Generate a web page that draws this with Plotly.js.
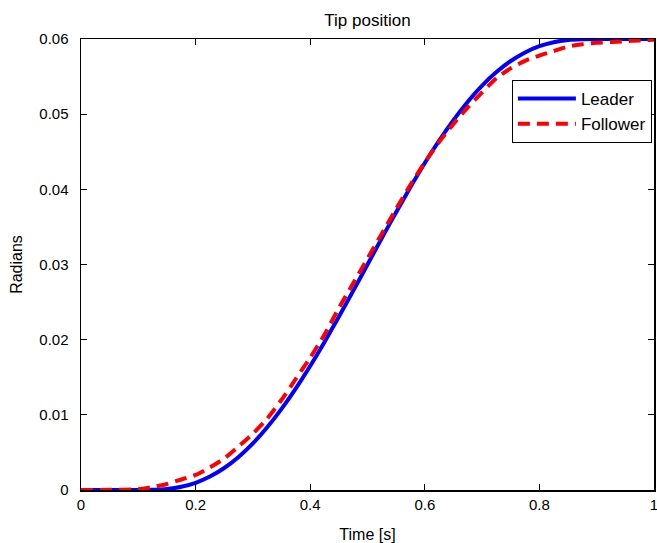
<!DOCTYPE html>
<html>
<head>
<meta charset="utf-8">
<script src="https://cdn.plot.ly/plotly-3.0.1.min.js"></script>
<style>html,body{margin:0;padding:0;background:#fff;}#chart{width:657px;height:543px;}</style>
</head>
<body>
<div id="chart"></div>
<script>
const time = [0, 0.05, 0.1, 0.125, 0.15, 0.175, 0.2, 0.225, 0.25, 0.275, 0.3, 0.325, 0.35, 0.375, 0.4, 0.425, 0.45, 0.475, 0.5, 0.525, 0.55, 0.575, 0.6, 0.625, 0.65, 0.675, 0.7, 0.725, 0.75, 0.775, 0.8, 0.825, 0.85, 0.875, 0.9, 0.925, 0.95, 0.975, 1.0];
const leader = [0, 0, 0, 0.00002, 0.00013, 0.00043, 0.00096, 0.00179, 0.00293, 0.0044, 0.0062, 0.00835, 0.0108, 0.01353, 0.0165, 0.0197, 0.02304, 0.02649, 0.03, 0.03351, 0.03696, 0.0403, 0.0435, 0.04647, 0.0492, 0.05165, 0.0538, 0.0556, 0.05707, 0.05821, 0.05904, 0.05957, 0.05987, 0.05998, 0.06, 0.06, 0.06, 0.06, 0.06];
const follower = [0, 0.00002, 0.0001, 0.0004, 0.0008, 0.0014, 0.002, 0.003, 0.0042, 0.0058, 0.0075, 0.0095, 0.012, 0.0148, 0.0176, 0.0207, 0.0242, 0.0275, 0.0308, 0.0341, 0.0374, 0.0406, 0.0436, 0.0463, 0.0487, 0.0509, 0.0529, 0.0548, 0.0561, 0.0571, 0.0578, 0.0584, 0.059, 0.0593, 0.0595, 0.0596, 0.0597, 0.0598, 0.0599];
const seriesNames = ['Leader', 'Follower'];
const xTicks = [0, 0.2, 0.4, 0.6, 0.8, 1];
const xTickText = ['0', '0.2', '0.4', '0.6', '0.8', '1'];
const yTicks = [0, 0.01, 0.02, 0.03, 0.04, 0.05, 0.06];
const yTickText = ['0', '0.01', '0.02', '0.03', '0.04', '0.05', '0.06'];

const font = 'Liberation Sans, Arial, Helvetica, sans-serif';
const traces = [
  {x: time, y: leader, name: seriesNames[0], mode: 'lines', line: {color: '#0000ff', width: 4, shape: 'spline', smoothing: 0.6}},
  {x: time, y: follower, name: seriesNames[1], mode: 'lines', line: {color: '#ff0000', width: 4, dash: '12px,7px', shape: 'spline', smoothing: 0.6}}
];
const axisCommon = {
  showline: true, linecolor: '#000', linewidth: 1.5, mirror: 'ticks',
  ticks: 'inside', ticklen: 6, tickwidth: 1, tickcolor: '#000',
  showgrid: false, zeroline: false, ticklabeloverflow: 'allow',
  tickfont: {family: font, size: 15, color: '#000'}
};
const layout = {
  width: 657, height: 543,
  margin: {l: 81, r: 3, t: 39, b: 53},
  paper_bgcolor: '#fff', plot_bgcolor: '#fff',
  title: {text: 'Tip position', font: {family: font, size: 17, color: '#000'}, x: 0.5, xref: 'paper', y: 0.963, yanchor: 'middle'},
  xaxis: Object.assign({}, axisCommon, {range: [0, 1], tickvals: xTicks, ticktext: xTickText,
    title: {text: 'Time [s]', font: {family: font, size: 16, color: '#000'}, standoff: 17}}),
  yaxis: Object.assign({}, axisCommon, {range: [0, 0.06], tickvals: yTicks, ticktext: yTickText, ticklabelstandoff: 8,
    title: {text: 'Radians', font: {family: font, size: 16, color: '#000'}, standoff: 12}}),
  legend: {x: 0.752, y: 0.909, xanchor: 'left', yanchor: 'top', bgcolor: '#fff', bordercolor: '#000', borderwidth: 1,
    font: {family: font, size: 17, color: '#000'}, tracegroupgap: 0, itemwidth: 58},
  showlegend: true
};
Plotly.newPlot('chart', traces, layout, {staticPlot: true, displayModeBar: false});
</script>
</body>
</html>
